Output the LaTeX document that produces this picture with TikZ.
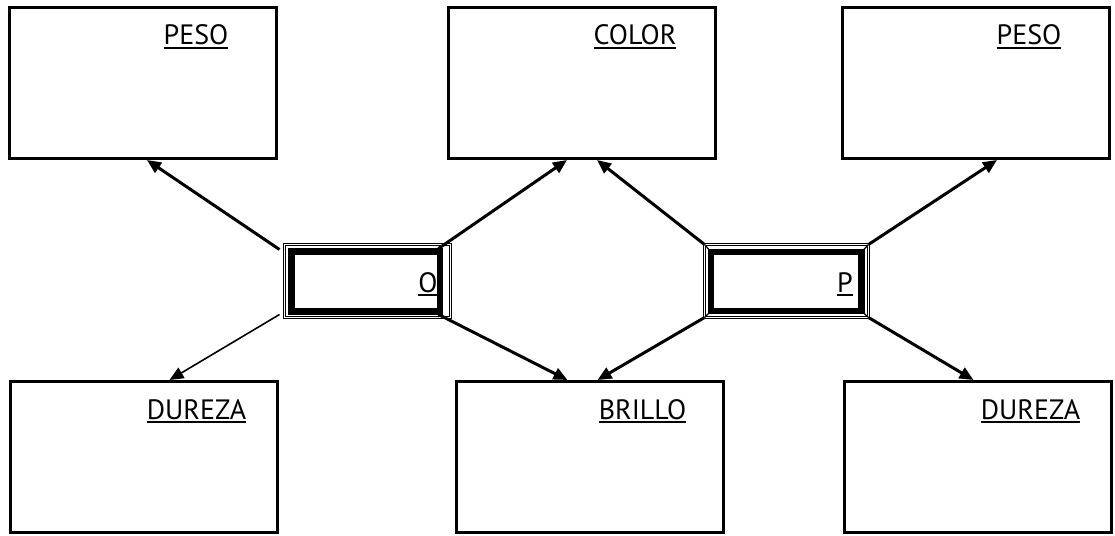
\documentclass[tikz,border=0pt]{standalone}
\usepackage{fontspec}
\setmainfont{PT Sans}
\usetikzlibrary{arrows.meta}
\tikzset{
  card/.style={draw,rectangle,line width=3pt,minimum width=267pt,minimum height=151pt,inner sep=0pt},
  frame/.style={draw,rectangle,double,double distance=1.5pt,line width=0.8pt,minimum width=166pt,minimum height=73pt,inner sep=0pt,outer sep=0pt},
  heavy/.style={line width=6.5pt},
  tag/.style={anchor=base,inner sep=0pt,font=\fontsize{28}{34}\selectfont},
  link/.style={line width=3pt,-{Triangle[length=14pt,width=12pt]}},
  thinlink/.style={line width=1.6pt,-{Triangle[length=14pt,width=12pt]}}
}
\newcommand{\ulabel}[1]{\sbox0{#1}\rlap{\usebox0}\rule[-4pt]{\wd0}{2pt}}

\begin{document}
\begin{tikzpicture}[x=1pt,y=-1pt]
        \useasboundingbox (0,0) rectangle (1115,535);

        \path
        (143,83) node[card](pesoO) {}
        (582,83) node[card](color) {}
        (976,83) node[card](pesoP) {}
        (143.5,457) node[card](durezaO) {}
        (589.5,457) node[card](brillo) {}
        (977.5,457) node[card](durezaP) {}
        ;
        \node[tag] (pesoOtxt) at ([xshift=53pt,yshift=-39pt]pesoO.north) {\ulabel{PESO}};
        \node[tag] (colortxt) at ([xshift=53pt,yshift=-39pt]color.north) {\ulabel{COLOR}};
        \node[tag] (pesoPtxt) at ([xshift=53pt,yshift=-39pt]pesoP.north) {\ulabel{PESO}};
        \node[tag] (durezaOtxt) at ([xshift=53pt,yshift=-39pt]durezaO.north) {\ulabel{DUREZA}};
        \node[tag] (brillotxt) at ([xshift=53pt,yshift=-39pt]brillo.north) {\ulabel{BRILLO}};
        \node[tag] (durezaPtxt) at ([xshift=53pt,yshift=-39pt]durezaP.north) {\ulabel{DUREZA}};

        \path
        (367.5,281) node[frame](o) {}
        (428,292) node[tag](otxt) {\ulabel{O}}
        ;
        \draw[heavy] ([shift={(7,7)}]o.north west) rectangle ([shift={(-10.5,-6)}]o.south east);

        \path
        (786.5,281) node[frame,minimum width=164pt](p) {}
        (845,292) node[tag](ptxt) {\ulabel{P}}
        ;
        \draw[heavy] ([shift={(6.5,7.5)}]p.north west) rectangle ([shift={(-7,-6.5)}]p.south east);
        \foreach \c/\dx/\dy in {north west/6.5/7.5,north east/-7/7.5,south west/6.5/-6.5,south east/-7/-6.5}
          \draw[line width=1.2pt] (p.\c) -- ([shift={(\dx,\dy)}]p.\c);

        \draw[link] ([shift={(-5,5)}]o.north west) -- ([xshift=4pt]pesoO.south);
        \draw[thinlink] ([shift={(-5,-3)}]o.south west) -- ([xshift=26pt]durezaO.north);
        \draw[link] ([shift={(-12,4)}]o.north east) -- ([xshift=-15pt]color.south);
        \draw[link] ([shift={(-12,-3)}]o.south east) -- ([xshift=-22pt]brillo.north);

        \draw[link] (p.north west) -- ([xshift=15pt]color.south);
        \draw[link] (p.north east) -- ([xshift=21pt]pesoP.south);
        \draw[link] (p.south west) -- ([xshift=8pt]brillo.north);
        \draw[link] (p.south east) -- ([xshift=-4pt]durezaP.north);
\end{tikzpicture}
\end{document}
